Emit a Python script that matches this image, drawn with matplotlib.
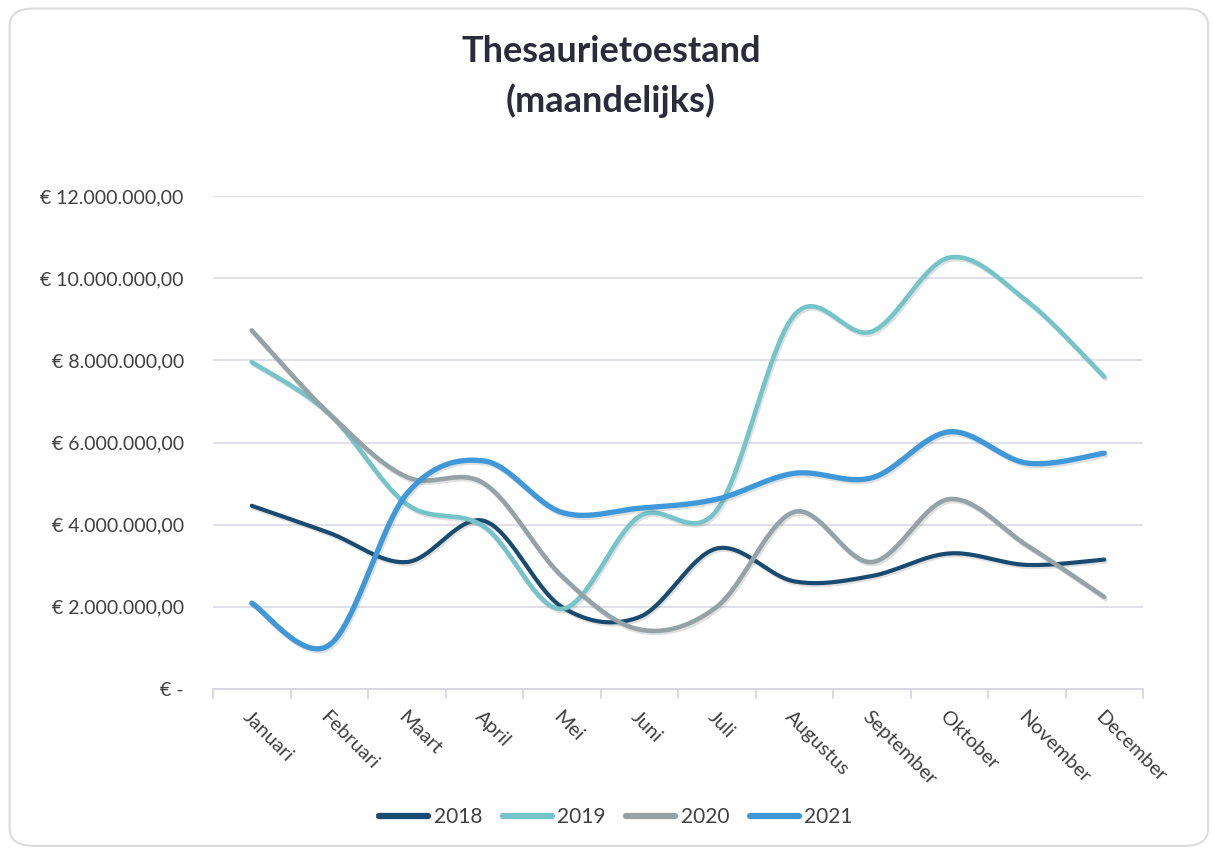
import numpy as np
import matplotlib
matplotlib.use("Agg")
import matplotlib.pyplot as plt
import matplotlib.patheffects as pe
from matplotlib.patches import FancyBboxPatch
from matplotlib.ticker import FixedLocator, FuncFormatter

# Monthly treasury position per year (EUR)
months = ["Januari", "Februari", "Maart", "April", "Mei", "Juni", "Juli",
          "Augustus", "September", "Oktober", "November", "December"]
years = ["2018", "2019", "2020", "2021"]
v2018 = [4.46e6, 3.80e6, 3.09e6, 4.09e6, 2.00e6, 1.75e6, 3.42e6,
         2.62e6, 2.75e6, 3.30e6, 3.02e6, 3.15e6]
v2019 = [7.96e6, 6.70e6, 4.50e6, 3.95e6, 1.95e6, 4.20e6, 4.35e6,
         9.10e6, 8.70e6, 10.50e6, 9.45e6, 7.60e6]
v2020 = [8.73e6, 6.70e6, 5.16e6, 5.00e6, 2.75e6, 1.45e6, 2.00e6,
         4.31e6, 3.09e6, 4.62e6, 3.50e6, 2.24e6]
v2021 = [2.09e6, 1.07e6, 4.75e6, 5.55e6, 4.30e6, 4.40e6, 4.62e6,
         5.25e6, 5.14e6, 6.26e6, 5.50e6, 5.74e6]
series = [v2018, v2019, v2020, v2021]
colors = ["#194b70", "#74c4ca", "#95a3a7", "#3e98da"]
widths = [3.0, 3.3, 3.3, 3.8]
yticks = [0, 2e6, 4e6, 6e6, 8e6, 10e6, 12e6]


def smooth(y, n=40):
    """Bezier smoothing through every point (Catmull-Rom style tangents)."""
    y = np.asarray(y, dtype=float)
    x = np.arange(len(y), dtype=float)
    xs, ys = [], []
    for i in range(len(y) - 1):
        p0 = (x[i - 1], y[i - 1]) if i > 0 else (x[i], y[i])
        p1 = (x[i], y[i])
        p2 = (x[i + 1], y[i + 1])
        p3 = (x[i + 2], y[i + 2]) if i + 2 < len(y) else (x[i + 1], y[i + 1])
        c1 = (p1[0] + (p2[0] - p0[0]) / 6, p1[1] + (p2[1] - p0[1]) / 6)
        c2 = (p2[0] - (p3[0] - p1[0]) / 6, p2[1] - (p3[1] - p1[1]) / 6)
        t = np.linspace(0, 1, n, endpoint=(i == len(y) - 2))
        b0, b1, b2, b3 = (1 - t) ** 3, 3 * (1 - t) ** 2 * t, 3 * (1 - t) * t ** 2, t ** 3
        xs.append(b0 * p1[0] + b1 * c1[0] + b2 * c2[0] + b3 * p2[0])
        ys.append(b0 * p1[1] + b1 * c1[1] + b2 * c2[1] + b3 * p2[1])
    return np.concatenate(xs), np.concatenate(ys)


def euro(v, _pos=None):
    if v == 0:
        return "€ -"
    s = f"{v:,.2f}".replace(",", "X").replace(".", ",").replace("X", ".")
    return f"€ {s}"


plt.rcParams["font.family"] = ["Lato", "DejaVu Sans"]

fig = plt.figure(figsize=(12.13, 8.51), dpi=100)
fig.patch.set_facecolor("white")

# card frame
card = FancyBboxPatch((0.008, 0.006), 0.988, 0.984,
                      boxstyle="round,pad=0,rounding_size=0.02",
                      transform=fig.transFigure, facecolor="white",
                      edgecolor="#dcdcdc", linewidth=1.5, zorder=-10)
fig.patches.append(card)

ax = fig.add_axes([213 / 1213, 1 - 689 / 851, (1143 - 213) / 1213, (689 - 196) / 851])
ax.set_facecolor("none")
ax.set_zorder(2)

for vals, col, lw, yr in zip(series, colors, widths, years):
    xs, ys = smooth(vals)
    ax.plot(xs, ys, color=col, lw=lw, solid_capstyle="round", label=yr, zorder=3,
            path_effects=[pe.SimpleLineShadow(offset=(1.0, -1.5), alpha=0.18,
                                              shadow_color="#555555"),
                          pe.Normal()])

ax.set_xlim(-0.5, len(months) - 0.5)
ax.set_ylim(0, 12e6)
ax.yaxis.set_major_locator(FixedLocator(yticks))
ax.yaxis.set_major_formatter(FuncFormatter(euro))
ax.grid(axis="y", color="#dadae4", lw=1.2, zorder=0)
ax.set_axisbelow(True)

for s in ["top", "right", "left"]:
    ax.spines[s].set_visible(False)
ax.spines["bottom"].set_color("#d4d4dc")
ax.spines["bottom"].set_linewidth(1.2)

ax.set_xticks(np.arange(len(months)))
ax.set_xticklabels(months, rotation=-45, ha="left", va="top",
                   rotation_mode="anchor", fontsize=14.5, color="#404040")
ax.set_xticks(np.arange(-0.5, len(months)), minor=True)
ax.tick_params(axis="x", which="major", length=0, pad=14)
ax.tick_params(axis="x", which="minor", length=7, color="#d4d4dc", width=1.2)
ax.tick_params(axis="y", length=0, pad=21, labelsize=14, labelcolor="#404040")

fig.text(611 / 1213, 1 - 52 / 851, "Thesaurietoestand", ha="center", va="center",
         fontsize=26, fontweight="bold", color="#2b2b3a")
fig.text(611 / 1213, 1 - 101 / 851, "(maandelijks)", ha="center", va="center",
         fontsize=26, fontweight="bold", color="#2b2b3a")

handles, labels = ax.get_legend_handles_labels()
leg = fig.legend(handles, labels, loc="center", bbox_to_anchor=(616 / 1213, 1 - 817 / 851),
                 ncol=4, frameon=False, fontsize=15, handlelength=2.35,
                 handletextpad=0.25, columnspacing=1.0, labelcolor="#404040")
for h in leg.legend_handles:
    h.set_linewidth(4.5)
    h.set_solid_capstyle("round")
    h.set_path_effects([])

fig.savefig("out.png", dpi=100, facecolor="white")
